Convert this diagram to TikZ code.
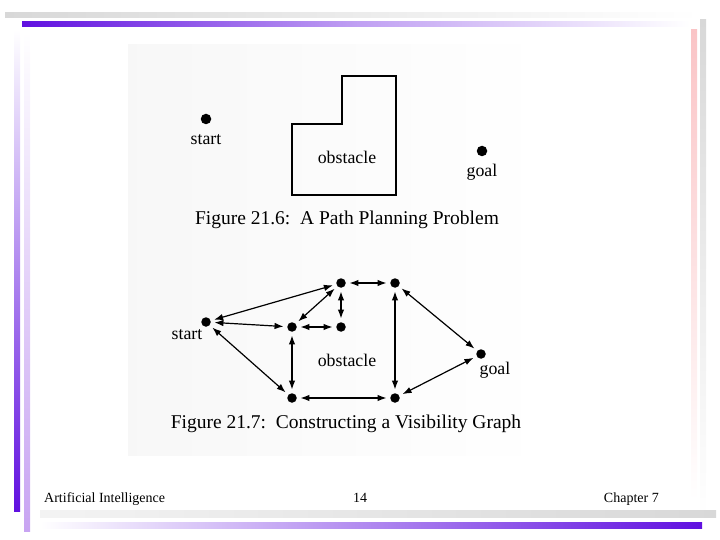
\documentclass[tikz,border=0pt]{standalone}
\usepackage{fontspec}
\setmainfont{Liberation Serif}
\usetikzlibrary{arrows.meta}
\definecolor{barpurple}{RGB}{96,16,224}
\definecolor{barlilac}{RGB}{200,164,242}
\definecolor{barpink}{RGB}{250,196,198}
\definecolor{bargray}{RGB}{216,216,216}
\tikzset{
  pdot/.style={circle,fill=black,inner sep=0pt,minimum size=10.5pt},
  vdot/.style={circle,fill=black,inner sep=0pt,minimum size=9.5pt},
  lbl/.style={inner sep=0pt,font=\fontsize{17.8}{20}\selectfont},
  figcap/.style={inner sep=0pt,font=\fontsize{19.5}{22}\selectfont},
  foot/.style={inner sep=0pt,font=\fontsize{14}{16}\selectfont,anchor=base},
  vis/.style={{Latex[length=9pt,width=6.5pt]}-{Latex[length=9pt,width=6.5pt]},line width=1.2pt,shorten <=3.5pt,shorten >=3.5pt}
}
\begin{document}
\begin{tikzpicture}[x=1pt,y=-1pt]
\useasboundingbox (0,0) rectangle (720,540);
%
% slide frame
\shade[left color=bargray,right color=white] (5,13) rectangle (700,18);
\shade[left color=barpurple,right color=white,middle color=barpurple!40] (22,22) rectangle (690,27);
\shade[top color=white,bottom color=barpurple] (14,30) rectangle (20,511);
\shade[top color=white,bottom color=barlilac] (24,32) rectangle (30,531);
\shade[top color=barpink,bottom color=white] (691,30) rectangle (697,500);
\shade[top color=bargray,bottom color=white] (700,20) rectangle (706,517);
\shade[left color=bargray!30,right color=bargray] (40,510) rectangle (716,517);
\shade[left color=white,right color=barpurple] (40,522) rectangle (702,528);
%
% scanned page
\shade[left color=black!3,right color=white] (128,45) rectangle (548,455);
%
% Figure 21.6
\node[pdot] (start) at (206,119) {};
\node[lbl] (startlbl) at (206,140) {start};
\draw[line width=1.4pt] (292,195) -- (292,124) -- (342,124) -- (342,76) -- (396,76) -- (396,195) -- cycle;
\node[lbl] (obst) at (347,157) {obstacle};
\node[pdot] (goal) at (482,151) {};
\node[lbl] (goallbl) at (482,172) {goal};
\node[figcap] (capa) at (347,220) {Figure 21.6:\ \ A Path Planning Problem};
%
% Figure 21.7
\node[vdot] (vtl) at (341,283) {};
\node[vdot] (vtr) at (395,283) {};
\node[vdot] (vin) at (341,327) {};
\node[vdot] (vml) at (292,327) {};
\node[vdot] (vbl) at (292,398) {};
\node[vdot] (vbr) at (395,398) {};
\node[vdot] (vstart) at (206,322) {};
\node[vdot] (vgoal) at (481,354) {};
\node[lbl] (vstartlbl) at (187,335) {start};
\node[lbl] (vgoallbl) at (495,370) {goal};
\node[lbl] (vobst) at (347,360) {obstacle};
\foreach \a/\b in {vstart/vtl,vstart/vml,vstart/vbl,vml/vtl,vin/vtl,vtl/vtr,vml/vin,vml/vbl,vbl/vbr,vtr/vbr,vtr/vgoal,vbr/vgoal}
  \draw[vis] (\a) -- (\b);
\node[figcap] (capb) at (346,424) {Figure 21.7:\ \ Constructing a Visibility Graph};
%
% footer
\node[foot,anchor=base west] (ftleft) at (44,502) {Artificial Intelligence};
\node[foot] (ftmid) at (360,502) {14};
\node[foot,anchor=base east] (ftright) at (659,502) {Chapter 7};
\end{tikzpicture}
\end{document}
